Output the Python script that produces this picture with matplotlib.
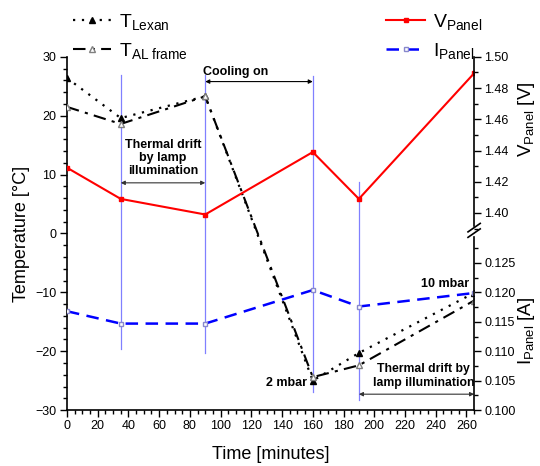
import numpy as np
import matplotlib
matplotlib.use('Agg')
import matplotlib.pyplot as plt
from matplotlib.lines import Line2D
from matplotlib.ticker import MultipleLocator

plt.rcParams['font.family'] = ['Liberation Sans', 'DejaVu Sans']
plt.rcParams['mathtext.fontset'] = 'custom'
plt.rcParams['mathtext.rm'] = 'Liberation Sans'
plt.rcParams['mathtext.it'] = 'Liberation Sans'

## Datos
time = [0, 35, 90, 160, 190, 265]
t_lexan = [26.4, 19.6, 23.3, -25.0, -20.3, -10.1]
t_al = [21.5, 18.6, 23.3, -24.4, -22.4, -11.4]
v_panel = [1.429, 1.409, 1.399, 1.439, 1.409, 1.4895]
i_panel = [0.1168, 0.1147, 0.1147, 0.1204, 0.1176, 0.1199]

## Lineas verticales (x, y inicio, y fin) en grados
vlines_x = [35, 90, 160, 190]
vlines_top = [26.9, 26.9, 26.7, 8.8]
vlines_bottom = [-19.6, -20.3, -26.9, -28.3]

fig = plt.figure(figsize=(5.4, 4.66), dpi=100)
ax = fig.add_axes([0.124, 0.12, 0.754, 0.758])
axV = ax.twinx()
axI = ax.twinx()

vcol = '#8080ff'
for x, y0, y1 in zip(vlines_x, vlines_top, vlines_bottom):
    ax.plot([x, x], [y0, y1], color=vcol, lw=0.9, zorder=1)

ax.plot(time, t_lexan, linestyle=(0, (1, 3)), color='black', lw=1.6,
        marker='^', ms=4, mfc='black', mec='black', zorder=3)
ax.plot(time, t_al, linestyle=(0, (6, 3, 1.5, 3)), color='black', lw=1.5,
        marker='^', ms=4, mfc='white', mec='gray', zorder=3)
axV.plot(time, v_panel, color='red', lw=1.5, marker='s', ms=3.5,
         mfc='red', mec='red')
axI.plot(time, i_panel, color='blue', lw=1.8, linestyle=(0, (5, 3)),
         marker='s', ms=3.5, mfc='white', mec='#8888cc')

## Ejes
ax.set_xlim(0, 265)
ax.set_ylim(-30, 30)
axV.set_ylim(1.50 - 0.2263, 1.50)
axI.set_ylim(0.100, 0.16003)

ax.xaxis.set_major_locator(MultipleLocator(20))
ax.xaxis.set_minor_locator(MultipleLocator(5))
ax.yaxis.set_major_locator(MultipleLocator(10))
ax.yaxis.set_minor_locator(MultipleLocator(2))
axV.set_yticks([1.40, 1.42, 1.44, 1.46, 1.48, 1.50])
axV.set_yticks(np.arange(1.39, 1.505, 0.01), minor=True)
axV.set_yticklabels(['1.40', '1.42', '1.44', '1.46', '1.48', '1.50'])
axI.set_yticks([0.100, 0.105, 0.110, 0.115, 0.120, 0.125])
axI.set_yticks(np.arange(0.100, 0.1276, 0.0025), minor=True)
axI.set_yticklabels(['0.100', '0.105', '0.110', '0.115', '0.120', '0.125'])

for a in (ax, axV, axI):
    a.spines['top'].set_visible(False)
    a.tick_params(which='both', direction='out', labelsize=9, width=1)
    a.tick_params(which='major', length=5, pad=2.5)
    a.tick_params(which='minor', length=3)
ax.spines['right'].set_visible(False)
for s in ('left', 'bottom'):
    axV.spines[s].set_visible(False)
    axI.spines[s].set_visible(False)
axV.spines['right'].set_bounds(1.3917, 1.50)
axI.spines['right'].set_bounds(0.100, 0.1294)
for a in (ax, axV, axI):
    for s in a.spines.values():
        s.set_linewidth(1.2)

## Marcas de corte
for yb in (0.5165, 0.5010):
    ax.plot([0.985, 1.015], [yb - 0.012, yb + 0.012], transform=ax.transAxes,
            color='black', lw=1.2, clip_on=False)

ax.set_xlabel('Time [minutes]', fontsize=13, labelpad=10)
ax.set_ylabel('Temperature [°C]', fontsize=13, labelpad=4)
fig.text(0.975, 0.745, r'V$_{\mathrm{Panel}}$ [V]', rotation=90,
         ha='center', va='center', fontsize=13.5)
fig.text(0.975, 0.29, r'I$_{\mathrm{Panel}}$ [A]', rotation=90,
         ha='center', va='center', fontsize=13.5)

## Anotaciones
ax.text(110, 27.4, 'Cooling on', ha='center', va='center', fontsize=9,
        fontweight='bold')
ax.annotate('', xy=(90, 25.8), xytext=(160, 25.8),
            arrowprops=dict(arrowstyle='<|-|>', color='black', lw=0.8,
                            mutation_scale=6, shrinkA=0, shrinkB=0))
ax.text(62.5, 12.8, 'Thermal drift\nby lamp\nillumination', ha='center',
        va='center', fontsize=9, fontweight='bold', linespacing=1.15)
ax.annotate('', xy=(35, 8.6), xytext=(90, 8.6),
            arrowprops=dict(arrowstyle='<|-|>', color='#333333', lw=0.8,
                            mutation_scale=6, shrinkA=0, shrinkB=0))
ax.text(156, -25.4, '2 mbar', ha='right', va='center', fontsize=9,
        fontweight='bold')
ax.text(262, -8.6, '10 mbar', ha='right', va='center', fontsize=9,
        fontweight='bold')
ax.text(232, -24.2, 'Thermal drift by\nlamp illumination', ha='center',
        va='center', fontsize=8.8, fontweight='bold', linespacing=1.15)
ax.annotate('', xy=(190, -27.3), xytext=(265, -27.3),
            arrowprops=dict(arrowstyle='<|-|>', color='#333333', lw=0.8,
                            mutation_scale=6, shrinkA=0, shrinkB=0))

## Leyendas
h_left = [Line2D([], [], linestyle=(0, (1, 3)), color='black', lw=1.6,
                 marker='^', ms=4, mfc='black'),
          Line2D([], [], linestyle=(0, (6, 3, 1.5, 3)), color='black', lw=1.5,
                 marker='^', ms=4, mfc='white', mec='gray')]
fig.legend(h_left, [r'T$_{\mathrm{Lexan}}$', r'T$_{\mathrm{AL\ frame}}$'],
           loc='upper left', bbox_to_anchor=(0.102, 1.012), frameon=False,
           fontsize=14, handlelength=2.0, labelspacing=0.45,
           handletextpad=0.4)
h_right = [Line2D([], [], color='red', lw=1.5, marker='s', ms=3.5, mfc='red'),
           Line2D([], [], color='blue', lw=1.8, linestyle=(0, (5, 3)),
                  marker='s', ms=3.5, mfc='white', mec='#8888cc')]
fig.legend(h_right, [r'V$_{\mathrm{Panel}}$', r'I$_{\mathrm{Panel}}$'],
           loc='upper left', bbox_to_anchor=(0.683, 1.012), frameon=False,
           fontsize=14, handlelength=2.0, labelspacing=0.45,
           handletextpad=0.4)

fig.savefig('out.png', dpi=100)
